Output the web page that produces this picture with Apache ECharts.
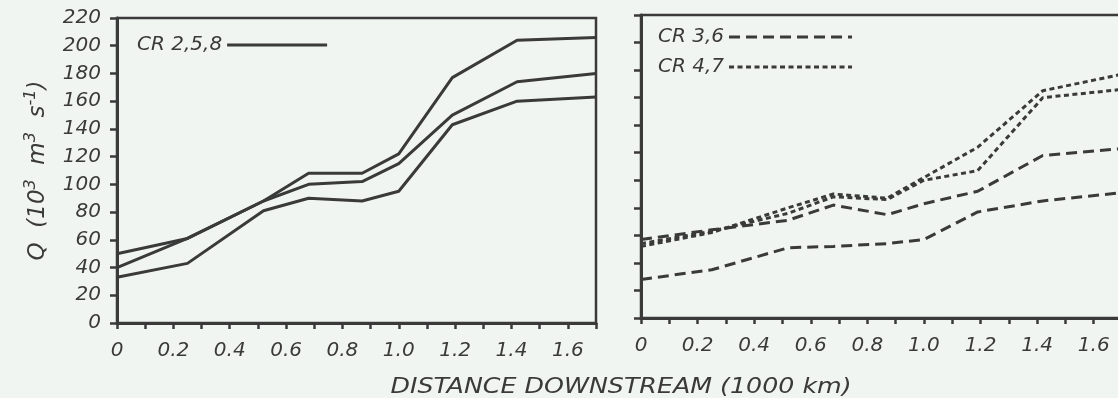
<!DOCTYPE html>
<html>
<head>
<meta charset="utf-8">
<script src="https://cdn.jsdelivr.net/npm/echarts@6/dist/echarts.min.js"></script>
<style>
  html, body { margin: 0; padding: 0; background: #f1f5f2; }
  #chart { width: 1118px; height: 398px; }
</style>
</head>
<body>
<div id="chart"></div>
<script>
// ---- data ----
const distance = [0, 0.25, 0.52, 0.68, 0.87, 1.0, 1.19, 1.42, 1.7];
const cr258Upper = [50, 61, 88, 108, 108, 122, 177, 204, 206];
const cr258Middle = [40, 61, 88, 100, 102, 115, 150, 174, 180];
const cr258Lower = [33, 43, 81, 90, 88, 95, 143, 160, 163];
const cr36Upper = [57, 64, 71, 82, 75, 83, 92, 118, 123];
const cr36Lower = [28, 35, 51, 52, 54, 57, 77, 85, 91];
const cr47Upper = [52, 62, 80, 90, 87, 102, 124, 165, 177];
const cr47Lower = [54, 63, 76, 88, 86, 100, 107, 160, 166];
const xTickLabels = ['0', '0.2', '0.4', '0.6', '0.8', '1.0', '1.2', '1.4', '1.6'];
const yTickLabels = ['0', '20', '40', '60', '80', '100', '120', '140', '160', '180', '200', '220'];
const xTitle = 'DISTANCE DOWNSTREAM (1000 km)';

const FONT = 'DejaVu Sans';
const INK = '#3a3a3a';

const chart = echarts.init(document.getElementById('chart'), null, { renderer: 'canvas' });

function mkLine(name, ys, idx, type) {
  return {
    name, type: 'line', xAxisIndex: idx, yAxisIndex: idx,
    data: distance.map((x, i) => [x, ys[i]]),
    symbol: 'none', silent: true,
    lineStyle: { color: INK, width: 3, type: type },
    itemStyle: { color: INK }
  };
}

function xAxis(idx) {
  return {
    type: 'value', gridIndex: idx, min: 0, max: 1.7, interval: 0.1,
    axisLine: { show: true, lineStyle: { color: INK, width: 3 } },
    axisTick: { show: true, inside: false, length: 6, lineStyle: { color: INK, width: 2.5 } },
    splitLine: { show: false },
    axisLabel: {
      show: true, margin: 18, color: INK, fontFamily: FONT, fontStyle: 'italic', fontSize: 20,
      showMaxLabel: true, showMinLabel: true,
      formatter: v => { const i = Math.round(v * 10); return i % 2 === 0 ? (xTickLabels[i / 2] || '') : ''; }
    }
  };
}

function yAxis(idx, showLabels) {
  const ax = {
    type: 'value', gridIndex: idx, min: 0, max: 220, interval: 20,
    axisLine: { show: true, lineStyle: { color: INK, width: 3 } },
    axisTick: { show: true, inside: false, length: 7, lineStyle: { color: INK, width: 2.5 } },
    splitLine: { show: false },
    axisLabel: {
      show: showLabels, margin: 16, color: INK, fontFamily: FONT, fontStyle: 'italic', fontSize: 20,
      formatter: v => yTickLabels[Math.round(v / 20)] || ''
    }
  };
  if (showLabels) {
    ax.name = 'Q  (10{s|3}  m{s|3}  s{s|-1})';
    ax.nameLocation = 'middle';
    ax.nameGap = 64;
    ax.nameRotate = 90;
    ax.nameTextStyle = {
      color: INK, fontFamily: FONT, fontStyle: 'italic', fontSize: 23, lineHeight: 30,
      rich: { s: { fontSize: 16, fontFamily: FONT, fontStyle: 'italic', color: INK, verticalAlign: 'top', lineHeight: 30 } }
    };
  }
  return ax;
}

const legendCommon = {
  align: 'right', padding: 0, itemHeight: 12,
  textStyle: { color: INK, fontFamily: FONT, fontStyle: 'italic', fontSize: 20 },
  lineStyle: { width: 3 },
  itemStyle: { opacity: 0 },
  selectedMode: false
};

const option = {
  backgroundColor: '#f1f5f2',
  animation: false,
  grid: [
    { left: 117, top: 18, width: 479, height: 305, show: true, borderColor: INK, borderWidth: 2.5, backgroundColor: 'transparent', containLabel: false, outerBoundsMode: 'none' },
    { left: 641, top: 15, width: 481, height: 303, show: true, borderColor: INK, borderWidth: 2.5, backgroundColor: 'transparent', containLabel: false, outerBoundsMode: 'none' }
  ],
  xAxis: [xAxis(0), xAxis(1)],
  yAxis: [yAxis(0, true), yAxis(1, false)],
  legend: [
    Object.assign({}, legendCommon, { left: 137, top: 35, itemWidth: 100, data: ['CR 2,5,8'] }),
    Object.assign({}, legendCommon, { left: 658, top: 27, itemWidth: 123, orient: 'vertical', itemGap: 10, data: ['CR 3,6', 'CR 4,7'] })
  ],
  graphic: [{
    type: 'text', x: 621, y: 387, scaleX: 1.15, silent: true,
    style: { text: xTitle, textAlign: 'center', textVerticalAlign: 'middle', verticalAlign: 'middle',
             font: 'italic 22px "DejaVu Sans"', fill: INK }
  }],
  series: [
    mkLine('CR 2,5,8', cr258Upper, 0, 'solid'),
    mkLine('CR 2,5,8', cr258Middle, 0, 'solid'),
    mkLine('CR 2,5,8', cr258Lower, 0, 'solid'),
    mkLine('CR 3,6', cr36Upper, 1, [11, 6]),
    mkLine('CR 3,6', cr36Lower, 1, [11, 6]),
    mkLine('CR 4,7', cr47Upper, 1, [5, 3.5]),
    mkLine('CR 4,7', cr47Lower, 1, [5, 3.5])
  ]
};
chart.setOption(option);
</script>
</body>
</html>
